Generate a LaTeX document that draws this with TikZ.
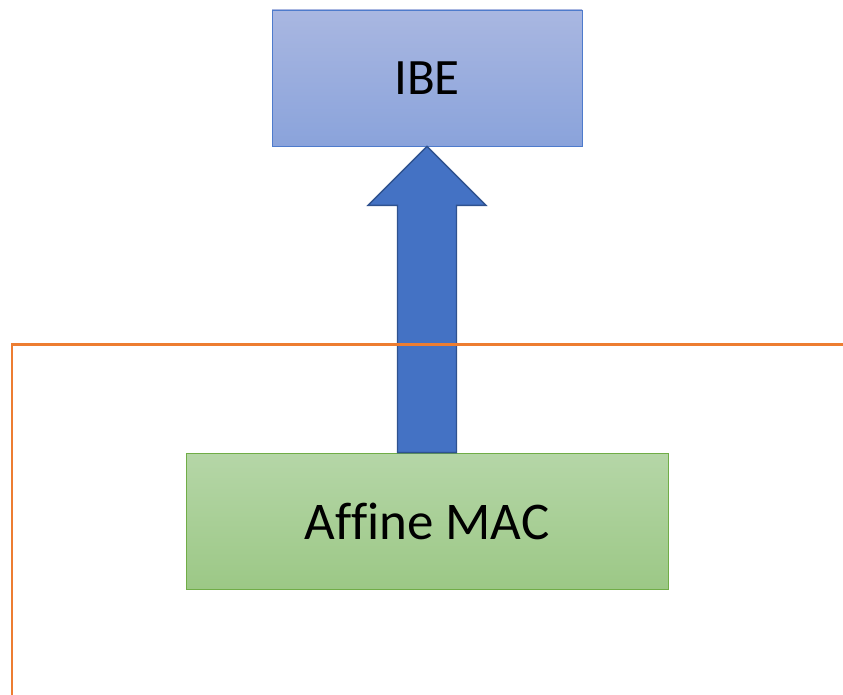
\documentclass[tikz,border=0pt]{standalone}
\usepackage{fontspec}
\setmainfont{Carlito}[Ligatures=NoCommon]
\usetikzlibrary{calc}
\definecolor{ibetop}{HTML}{A9B7E1}
\definecolor{ibebot}{HTML}{8AA3DB}
\definecolor{ibeline}{HTML}{4E7BCC}
\definecolor{mactop}{HTML}{B5D6A7}
\definecolor{macbot}{HTML}{9CC886}
\definecolor{macline}{HTML}{70AD47}
\definecolor{arrfill}{HTML}{4472C4}
\definecolor{arrline}{HTML}{2F528F}
\definecolor{frameorange}{HTML}{ED7D31}

\begin{document}
\begin{tikzpicture}[x=1pt, y=-1pt,
    box/.style={rectangle, inner sep=0pt, line width=0.9pt},
    ibebox/.style={box, draw=ibeline, top color=ibetop, bottom color=ibebot,
        minimum width=310pt, minimum height=136pt, font=\fontsize{51}{60}\selectfont},
    macbox/.style={box, draw=macline, top color=mactop, bottom color=macbot,
        minimum width=482pt, minimum height=136pt, font=\fontsize{53}{62}\selectfont},
    blockarrow/.style={fill=arrfill, draw=arrline, line width=1.4pt, line join=miter},
    frame/.style={draw=frameorange, line width=2.4pt}]
    \useasboundingbox (0,0) rectangle (843,695);
    \node[ibebox] (ibe) at (427,78) {IBE};
    \node[macbox] (mac) at (427,521) {Affine MAC};
    \coordinate (tip) at (ibe.south);
    \coordinate (foot) at (tip |- mac.north);
    \draw[blockarrow] ($(foot)+(-29.5,0)$) -- ($(tip)+(-29.5,59)$) -- ($(tip)+(-59,59)$)
        -- (tip) -- ($(tip)+(59,59)$) -- ($(tip)+(29.5,59)$) -- ($(foot)+(29.5,0)$) -- cycle;
    \coordinate (corner) at (12,344.5);
    \draw[frame] (corner |- 0,700) -- (corner) -- (850,344.5);
\end{tikzpicture}
\end{document}
